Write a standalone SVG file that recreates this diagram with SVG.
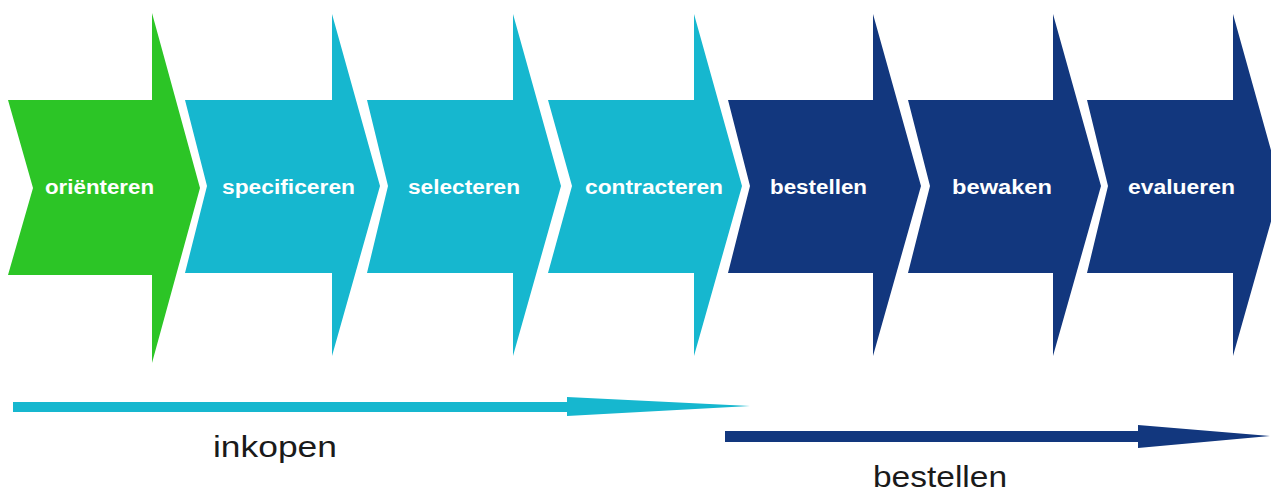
<svg xmlns="http://www.w3.org/2000/svg" width="1271" height="492" viewBox="0 0 1271 492">
  <style>
    .green { fill: #2cc526; }
    .cyan { fill: #16b7cf; }
    .navy { fill: #12377e; }
    .step { font-family: "Liberation Sans", Arial, sans-serif; font-weight: bold; font-size: 20px; fill: #ffffff; }
    .phase { font-family: "Liberation Sans", Arial, sans-serif; font-size: 30px; fill: #1a1a1a; }
  </style>
  <rect width="1271" height="492" fill="#ffffff"/>

  <!-- process steps: chevron arrows -->
  <g id="orienteren">
    <polygon class="green" points="8,100 152,100 152,13 200,188 152,363 152,275 8,275 33,188"/>
    <text class="step" x="45" y="194" textLength="109" lengthAdjust="spacingAndGlyphs">oriënteren</text>
  </g>
  <g id="specificeren">
    <polygon class="cyan" points="185,100 332,100 332,14 380,186 332,356 332,273 185,273 207,186"/>
    <text class="step" x="222" y="194" textLength="133" lengthAdjust="spacingAndGlyphs">specificeren</text>
  </g>
  <g id="selecteren">
    <polygon class="cyan" points="367,100 513,100 513,14 561,186 513,356 513,273 367,273 388,186"/>
    <text class="step" x="408" y="194" textLength="112" lengthAdjust="spacingAndGlyphs">selecteren</text>
  </g>
  <g id="contracteren">
    <polygon class="cyan" points="548,100 694,100 694,14 742,186 694,356 694,273 548,273 572,186"/>
    <text class="step" x="585" y="194" textLength="138" lengthAdjust="spacingAndGlyphs">contracteren</text>
  </g>
  <g id="bestellen-stap">
    <polygon class="navy" points="728,100 873,100 873,14 921,186 873,356 873,273 728,273 750,186"/>
    <text class="step" x="770" y="194" textLength="97" lengthAdjust="spacingAndGlyphs">bestellen</text>
  </g>
  <g id="bewaken">
    <polygon class="navy" points="908,100 1053,100 1053,14 1101,186 1053,356 1053,273 908,273 930,186"/>
    <text class="step" x="952" y="194" textLength="100" lengthAdjust="spacingAndGlyphs">bewaken</text>
  </g>
  <g id="evalueren">
    <polygon class="navy" points="1087,100 1233,100 1233,14 1281,186 1233,356 1233,273 1087,273 1108,186"/>
    <text class="step" x="1128" y="194" textLength="107" lengthAdjust="spacingAndGlyphs">evalueren</text>
  </g>

  <!-- phase arrows underneath -->
  <g id="connectors">
    <rect class="cyan" x="13" y="402" width="556" height="10"/>
    <polygon class="cyan" points="567,397 750,406 567,416"/>
    <rect class="navy" x="725" y="431" width="415" height="11"/>
    <polygon class="navy" points="1138,425 1270,436 1138,448"/>
  </g>

  <g id="inkopen-label">
    <text class="phase" x="213" y="457" textLength="124" lengthAdjust="spacingAndGlyphs">inkopen</text>
  </g>
  <g id="bestellen-label">
    <text class="phase" x="873" y="487" textLength="134" lengthAdjust="spacingAndGlyphs">bestellen</text>
  </g>
</svg>
